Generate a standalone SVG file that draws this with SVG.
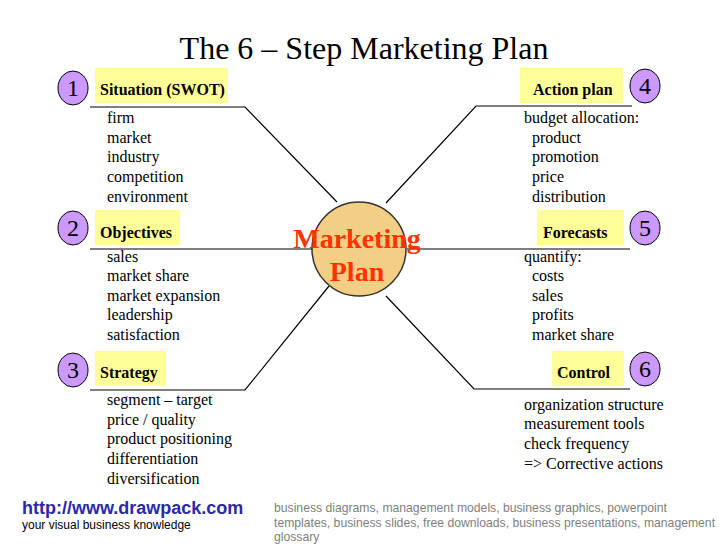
<svg xmlns="http://www.w3.org/2000/svg" width="728" height="546" viewBox="0 0 728 546">
<style>
.bg{fill:#ffffff}
.lbl{fill:#ffff99}
.num{fill:#cc99ff;stroke:#000;stroke-width:1}
.numt{font-family:"Liberation Serif",serif;font-size:24px;fill:#000;text-anchor:middle}
.head{font-family:"Liberation Serif",serif;font-size:16px;font-weight:bold;fill:#000}
.item{font-family:"Liberation Serif",serif;font-size:16px;fill:#000}
.conn{fill:none;stroke:#000;stroke-width:1.2}
</style>
<rect class="bg" x="0" y="0" width="728" height="546"/>
<text x="364" y="59" font-family="Liberation Serif, serif" font-size="32" text-anchor="middle" fill="#000">The 6 – Step Marketing Plan</text>

<g id="connectors">
<polyline class="conn" points="90,107 245,107 337,202"/>
<line class="conn" x1="90" y1="249" x2="312" y2="249"/>
<polyline class="conn" points="90,390 245,390 329,286"/>
<polyline class="conn" points="632,106 476,106 386,203"/>
<line class="conn" x1="407" y1="249" x2="630" y2="249"/>
<polyline class="conn" points="630,389 474,389 386,296"/>
</g>

<g id="center">
<circle cx="359" cy="249" r="47" fill="#f3cf85" stroke="#333" stroke-width="1.5"/>
<text x="357" y="248" font-family="Liberation Serif, serif" font-size="28" font-weight="bold" fill="#ff3300" text-anchor="middle">Marketing</text>
<text x="357" y="281" font-family="Liberation Serif, serif" font-size="28" font-weight="bold" fill="#ff3300" text-anchor="middle">Plan</text>
</g>

<g id="step1">
<ellipse class="num" cx="73" cy="88" rx="15" ry="17"/>
<text class="numt" x="73" y="96">1</text>
<rect class="lbl" x="95" y="68" width="133" height="35"/>
<text class="head" x="100" y="95">Situation (SWOT)</text>
<text class="item" x="107" y="123">firm</text>
<text class="item" x="107" y="143">market</text>
<text class="item" x="107" y="162">industry</text>
<text class="item" x="107" y="182">competition</text>
<text class="item" x="107" y="202">environment</text>
</g>

<g id="step2">
<ellipse class="num" cx="73" cy="228" rx="15" ry="17"/>
<text class="numt" x="73" y="236">2</text>
<rect class="lbl" x="95" y="210" width="85" height="35"/>
<text class="head" x="100" y="238">Objectives</text>
<text class="item" x="107" y="262">sales</text>
<text class="item" x="107" y="281">market share</text>
<text class="item" x="107" y="301">market expansion</text>
<text class="item" x="107" y="320">leadership</text>
<text class="item" x="107" y="340">satisfaction</text>
</g>

<g id="step3">
<ellipse class="num" cx="73" cy="370" rx="15" ry="17"/>
<text class="numt" x="73" y="378">3</text>
<rect class="lbl" x="95" y="351" width="71" height="35"/>
<text class="head" x="100" y="378">Strategy</text>
<text class="item" x="107" y="405">segment – target</text>
<text class="item" x="107" y="425">price / quality</text>
<text class="item" x="107" y="444">product positioning</text>
<text class="item" x="107" y="464">differentiation</text>
<text class="item" x="107" y="484">diversification</text>
</g>

<g id="step4">
<ellipse class="num" cx="645" cy="86" rx="15" ry="17"/>
<text class="numt" x="645" y="94">4</text>
<rect class="lbl" x="520" y="68" width="103" height="35"/>
<text class="head" x="533" y="95">Action plan</text>
<text class="item" x="524" y="123">budget allocation:</text>
<text class="item" x="532" y="143">product</text>
<text class="item" x="532" y="162">promotion</text>
<text class="item" x="532" y="182">price</text>
<text class="item" x="532" y="202">distribution</text>
</g>

<g id="step5">
<ellipse class="num" cx="645" cy="228" rx="15" ry="17"/>
<text class="numt" x="645" y="236">5</text>
<rect class="lbl" x="537" y="210" width="87" height="35"/>
<text class="head" x="543" y="238">Forecasts</text>
<text class="item" x="524" y="262">quantify:</text>
<text class="item" x="532" y="281">costs</text>
<text class="item" x="532" y="301">sales</text>
<text class="item" x="532" y="320">profits</text>
<text class="item" x="532" y="340">market share</text>
</g>

<g id="step6">
<ellipse class="num" cx="645" cy="369" rx="15" ry="17"/>
<text class="numt" x="645" y="377">6</text>
<rect class="lbl" x="552" y="351" width="72" height="35"/>
<text class="head" x="557" y="378">Control</text>
<text class="item" x="524" y="410">organization structure</text>
<text class="item" x="524" y="429">measurement tools</text>
<text class="item" x="524" y="449">check frequency</text>
<text class="item" x="524" y="469">=&gt; Corrective actions</text>
</g>

<g id="footer">
<text x="22" y="514" font-family="Liberation Sans, sans-serif" font-size="18" font-weight="bold" fill="#2a2aa8">http://www.drawpack.com</text>
<text x="22" y="529" font-family="Liberation Sans, sans-serif" font-size="12" fill="#000">your visual business knowledge</text>
<text font-family="Liberation Sans, sans-serif" font-size="12.2" fill="#808080">
<tspan x="274" y="512">business diagrams, management models, business graphics, powerpoint</tspan>
<tspan x="274" y="527">templates, business slides, free downloads, business presentations, management</tspan>
<tspan x="274" y="541">glossary</tspan>
</text>
</g>
</svg>
